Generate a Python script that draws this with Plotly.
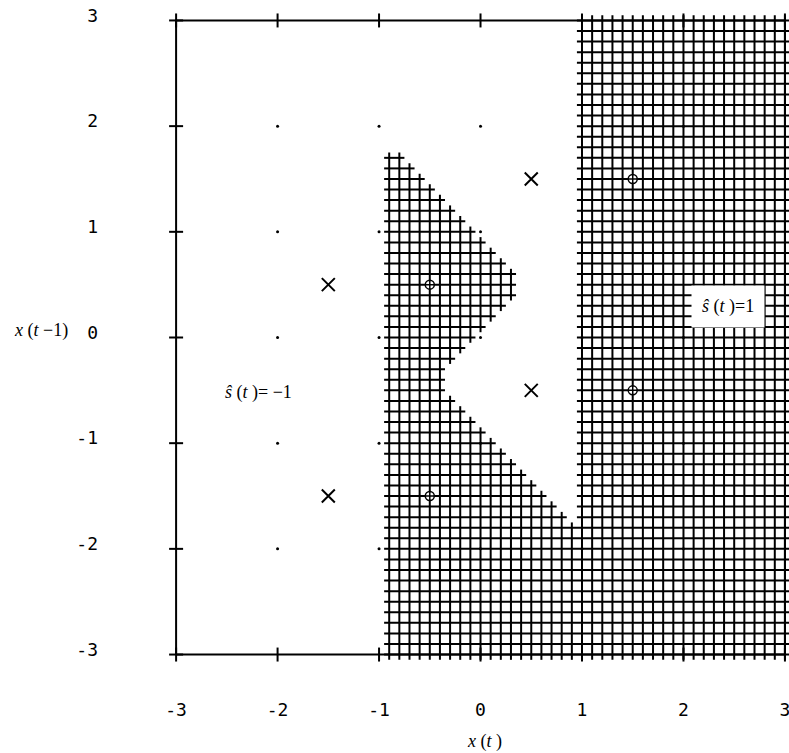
import numpy as np
import plotly.graph_objects as go

# ---- data -------------------------------------------------------------
# axis ticks
TICK_VALUES = [-3, -2, -1, 0, 1, 2, 3]
X_TICK_LABELS = ["-3", "-2", "-1", "0", "1", "2", "3"]
Y_TICK_LABELS = ["-3", "-2", "-1", "0", "1", "2", "3"]

# training points of class s = -1 (crosses) and s = +1 (circles)
CROSS_X = [-1.5, 0.5, 0.5, -1.5]
CROSS_Y = [0.5, 1.5, -0.5, -1.5]
CIRCLE_X = [-0.5, 1.5, 1.5, -0.5]
CIRCLE_Y = [0.5, 1.5, -0.5, -1.5]

# integer lattice markers
LATTICE = [-2, -1, 0, 1, 2]

# decision region s_hat(t) = 1 (boundary outline)
REGION_X = [-0.95, 3.05, 3.05, 0.95, 0.95, -0.35, -0.35, 0.35, 0.35, -0.80, -0.95]
REGION_Y = [-3.05, -3.05, 3.05, 3.05, -1.80, -0.50, -0.30, 0.40, 0.60, 1.75, 1.75]

# evaluation grid of the classifier
GRID_STEP = 0.1
GRID = np.round(np.arange(-30, 31) * GRID_STEP, 1)

# ---- helpers ----------------------------------------------------------
def inside_polygon(px, py, vx, vy):
    inside = np.zeros(px.shape, dtype=bool)
    n = len(vx)
    j = n - 1
    for i in range(n):
        xi, yi, xj, yj = vx[i], vy[i], vx[j], vy[j]
        crosses = (yi > py) != (yj > py)
        if yj != yi:
            xcross = (xj - xi) * (py - yi) / (yj - yi) + xi
            inside ^= crosses & (px < xcross)
        j = i
    return inside


def runs(mask):
    out = []
    start = None
    for k, v in enumerate(mask):
        if v and start is None:
            start = k
        if not v and start is not None:
            out.append((start, k - 1))
            start = None
    if start is not None:
        out.append((start, len(mask) - 1))
    return out


GX, GY = np.meshgrid(GRID, GRID)
ON = inside_polygon(GX, GY, REGION_X, REGION_Y)  # ON[row(y), col(x)]

# cross-hatch: every grid point in the region gets a "+" whose arms join
arm = GRID_STEP / 2
hx, hy = [], []
for j, yv in enumerate(GRID):
    for a, b in runs(ON[j, :]):
        hx += [GRID[a] - arm, GRID[b] + arm, None]
        hy += [yv, yv, None]
for i, xv in enumerate(GRID):
    for a, b in runs(ON[:, i]):
        hx += [xv, xv, None]
        hy += [GRID[a] - arm, GRID[b] + arm, None]

# ---- layout geometry --------------------------------------------------
W, H = 789, 753
X_RANGE = [-3.07, 3.04]
Y_RANGE = [-3.08, 3.08]
ML, MR, MT = 169, 0, 11.5
plot_w = W - ML - MR
px_per_x = plot_w / (X_RANGE[1] - X_RANGE[0])
plot_h = 105.7 * (Y_RANGE[1] - Y_RANGE[0])
MB = H - MT - plot_h
px_per_y = plot_h / (Y_RANGE[1] - Y_RANGE[0])

lo, hi = TICK_VALUES[0], TICK_VALUES[-1]
TICK_PX = 7
tdx, tdy = TICK_PX / px_per_x, TICK_PX / px_per_y

# frame box
fx = [lo, hi, hi, lo, lo]
fy = [lo, lo, hi, hi, lo]
# crossing tick marks on bottom, top and left edges
tx, ty = [], []
for v in TICK_VALUES:
    tx += [v, v, None, v, v, None, lo - tdx, lo + tdx, None]
    ty += [lo - tdy, lo + tdy, None, hi - tdy, hi + tdy, None, v, v, None]

dot_x = [a for a in LATTICE for b in LATTICE]
dot_y = [b for a in LATTICE for b in LATTICE]

fig = go.Figure()
fig.add_trace(go.Scatter(x=hx, y=hy, mode="lines",
                         line=dict(color="black", width=2), hoverinfo="skip"))
fig.add_trace(go.Scatter(x=fx, y=fy, mode="lines",
                         line=dict(color="black", width=2), hoverinfo="skip"))
fig.add_trace(go.Scatter(x=tx, y=ty, mode="lines",
                         line=dict(color="black", width=2), hoverinfo="skip"))
fig.add_trace(go.Scatter(x=dot_x, y=dot_y, mode="markers",
                         marker=dict(symbol="circle", size=3, color="black"),
                         hoverinfo="skip"))
fig.add_trace(go.Scatter(x=CROSS_X, y=CROSS_Y, mode="markers",
                         marker=dict(symbol="x-thin", size=13,
                                     line=dict(color="black", width=2))))
fig.add_trace(go.Scatter(x=CIRCLE_X, y=CIRCLE_Y, mode="markers",
                         marker=dict(symbol="circle-cross", size=9, color="white",
                                     line=dict(color="black", width=1.5))))

tick_font = dict(family="DejaVu Sans Mono", size=18, color="black")
serif = dict(family="Liberation Serif", size=18, color="black")

fig.update_xaxes(range=X_RANGE, tickvals=TICK_VALUES, ticktext=X_TICK_LABELS,
                 showgrid=False, zeroline=False, showline=False, ticks="",
                 tickfont=tick_font, ticklabelstandoff=34,
                 ticklabeloverflow="allow", fixedrange=True)
fig.update_yaxes(range=Y_RANGE, tickvals=TICK_VALUES, ticktext=Y_TICK_LABELS,
                 showgrid=False, zeroline=False, showline=False, ticks="",
                 tickfont=tick_font, ticklabelstandoff=70, ticklabelshift=-5,
                 ticklabeloverflow="allow", fixedrange=True)

fig.add_annotation(x=2.44, y=0.29, xref="x", yref="y",
                   text="<i>ŝ</i> (<i>t</i> )=1", showarrow=False, font=serif,
                   bgcolor="white", borderpad=10)
fig.add_annotation(x=-2.19, y=-0.52, xref="x", yref="y",
                   text="<i>ŝ</i> (<i>t</i> )= −1", showarrow=False, font=serif)
fig.add_annotation(x=0.04, y=0, xref="x", yref="paper", yanchor="middle",
                   yshift=-78, text="<i>x</i> (<i>t</i> )", showarrow=False,
                   font=serif)
fig.add_annotation(x=0, y=0.07, xref="paper", yref="y", xanchor="center",
                   xshift=-128, text="<i>x</i> (<i>t</i> −1)", showarrow=False,
                   font=serif)

fig.update_layout(width=W, height=H, showlegend=False,
                  margin=dict(l=ML, r=MR, t=MT, b=MB, pad=0),
                  plot_bgcolor="white", paper_bgcolor="white")

fig.write_html("out.html")
